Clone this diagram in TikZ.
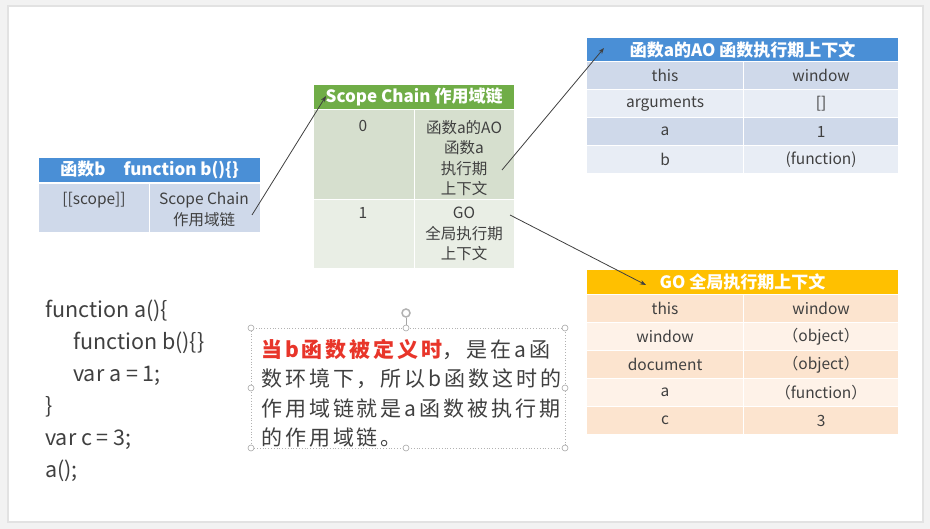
\documentclass[tikz,border=0pt]{standalone}
\usepackage{fontspec}
\setmainfont{Noto Sans CJK SC}
\usetikzlibrary{arrows.meta}
\definecolor{txt}{HTML}{404040}
\definecolor{blueH}{HTML}{4A8FD6}
\definecolor{blueB}{HTML}{CFD9EA}
\definecolor{blueL}{HTML}{E8EDF5}
\definecolor{greenH}{HTML}{70AD47}
\definecolor{greenD}{HTML}{D6DFCE}
\definecolor{greenL}{HTML}{E9EEE5}
\definecolor{orangeH}{HTML}{FFC000}
\definecolor{orangeD}{HTML}{FCE4CF}
\definecolor{orangeL}{HTML}{FEF2E8}
\definecolor{redT}{HTML}{E8352A}
\definecolor{frame}{HTML}{E2E2E2}
\definecolor{outer}{HTML}{F2F2F2}
\begin{document}
\begin{tikzpicture}[x=1pt,y=-1pt,
  cell/.style={draw=white,line width=1.2pt,anchor=north west,inner sep=0pt,
    text=txt,font=\fontsize{15.5}{20}\selectfont,align=center},
  head/.style={cell,text=white,font=\fontsize{17}{19}\selectfont\bfseries},
  ctext/.style={text=txt,font=\fontsize{15.5}{20.5}\selectfont,align=center,anchor=north,inner sep=0pt},
  conn/.style={draw=txt,line width=0.8pt,-{Stealth[length=6pt,width=4.5pt]}},
  handle/.style={circle,draw=gray!70,fill=white,line width=0.6pt,minimum size=6pt,inner sep=0pt}]
\useasboundingbox (0,0) rectangle (930,529);
\fill[outer] (0,0) rectangle (930,529);
\draw[frame,fill=white,line width=1.5pt] (8,6) rectangle (923,522);

% ---- table b
\node[head,fill=blueH,minimum width=222pt,minimum height=25pt] (bhead) at (38,157) {函数b\hspace{18pt}function b()\{\}};
\node[cell,fill=blueB,minimum width=111pt,minimum height=49pt] (bc1) at (38,183) {};
\node[cell,fill=blueB,minimum width=111pt,minimum height=49pt] (bc2) at (149,183) {};
\node[ctext] (bscope) at (94,192) {[[scope]]};
\node[ctext] (bchain) at (204,192) {Scope Chain\\作用域链};

% ---- scope chain table
\node[head,fill=greenH,minimum width=201pt,minimum height=25pt] (schead) at (313,84) {Scope Chain 作用域链};
\node[cell,fill=greenD,minimum width=101pt,minimum height=90pt] (sc0a) at (313,109) {};
\node[cell,fill=greenD,minimum width=100pt,minimum height=90pt] (sc0b) at (414,109) {};
\node[cell,fill=greenL,minimum width=101pt,minimum height=69pt] (sc1a) at (313,199) {};
\node[cell,fill=greenL,minimum width=100pt,minimum height=69pt] (sc1b) at (414,199) {};
\node[ctext] (t0) at (363,120) {0};
\node[ctext] (t0b) at (464,120) {函数a的AO\\函数a\\执行期\\上下文};
\node[ctext] (t1) at (363,207) {1};
\node[ctext] (t1b) at (464,207) {GO\\全局执行期\\上下文};

% ---- AO table
\node[head,fill=blueH,minimum width=312pt,minimum height=24pt] (aohead) at (586,37) {函数a的AO 函数执行期上下文};
\foreach \i/\k/\v/\c in {0/this/window/blueB,1/arguments/[]/blueL,2/a/1/blueB,3/b/(function)/blueL}{
  \node[cell,fill=\c,minimum width=157pt,minimum height=28pt] (aok\i) at (586,{61+\i*28}) {\k};
  \node[cell,fill=\c,minimum width=155pt,minimum height=28pt] (aov\i) at (743,{61+\i*28}) {\v};
}

% ---- GO table
\node[head,fill=orangeH,minimum width=312pt,minimum height=25pt] (gohead) at (586,269) {GO 全局执行期上下文};
\foreach \i/\k/\v/\c in {0/this/window/orangeD,1/window/（object）/orangeL,2/document/（object）/orangeD,3/a/（function）/orangeL,4/c/3/orangeD}{
  \node[cell,fill=\c,minimum width=157pt,minimum height=28pt] (gok\i) at (586,{294+\i*28}) {\k};
  \node[cell,fill=\c,minimum width=155pt,minimum height=28pt] (gov\i) at (743,{294+\i*28}) {\v};
}

% ---- connectors
\coordinate (s1) at (252,215);
\coordinate (e1) at (326,96);
\coordinate (s2) at (502,170);
\coordinate (e2) at (604,48);
\coordinate (s3) at (510,215);
\coordinate (e3) at (646,285);
\draw[conn] (s1) -- (e1);
\draw[conn] (s2) -- (e2);
\draw[conn] (s3) -- (e3);

% ---- code
\node[anchor=north west,inner sep=0pt,align=left,text=txt,
  font=\fontsize{21.5}{32}\selectfont] (code) at (45,300) {%
function a()\{\\
\hspace*{28pt}function b()\{\}\\
\hspace*{28pt}var a = 1;\\
\}\\
var c = 3;\\
a();};

% ---- text box
\draw[gray!60,dotted,line width=0.8pt] (251,328) rectangle (565,448);
\coordinate (rot) at (406,313);
\draw[gray!70,line width=0.6pt] (406,318) -- (406,328);
\node[circle,draw=gray!60,line width=1.5pt,minimum size=8pt,inner sep=0pt] (rotc) at (rot) {};
\foreach \p/\q [count=\n] in {251/328,406/328,565/328,251/388,565/388,251/448,406/448,565/448}{
  \node[handle] (h\n) at (\p,\q) {};
}
\node[anchor=north west,inner sep=0pt,align=left,text=txt,
  font=\fontsize{21}{29.5}\selectfont\addfontfeatures{LetterSpace=14}] (note) at (261,339) {%
{\color{redT}\bfseries 当b函数被定义时}，是在a函\\
数环境下，所以b函数这时的\\
作用域链就是a函数被执行期\\
的作用域链。};
\end{tikzpicture}
\end{document}
